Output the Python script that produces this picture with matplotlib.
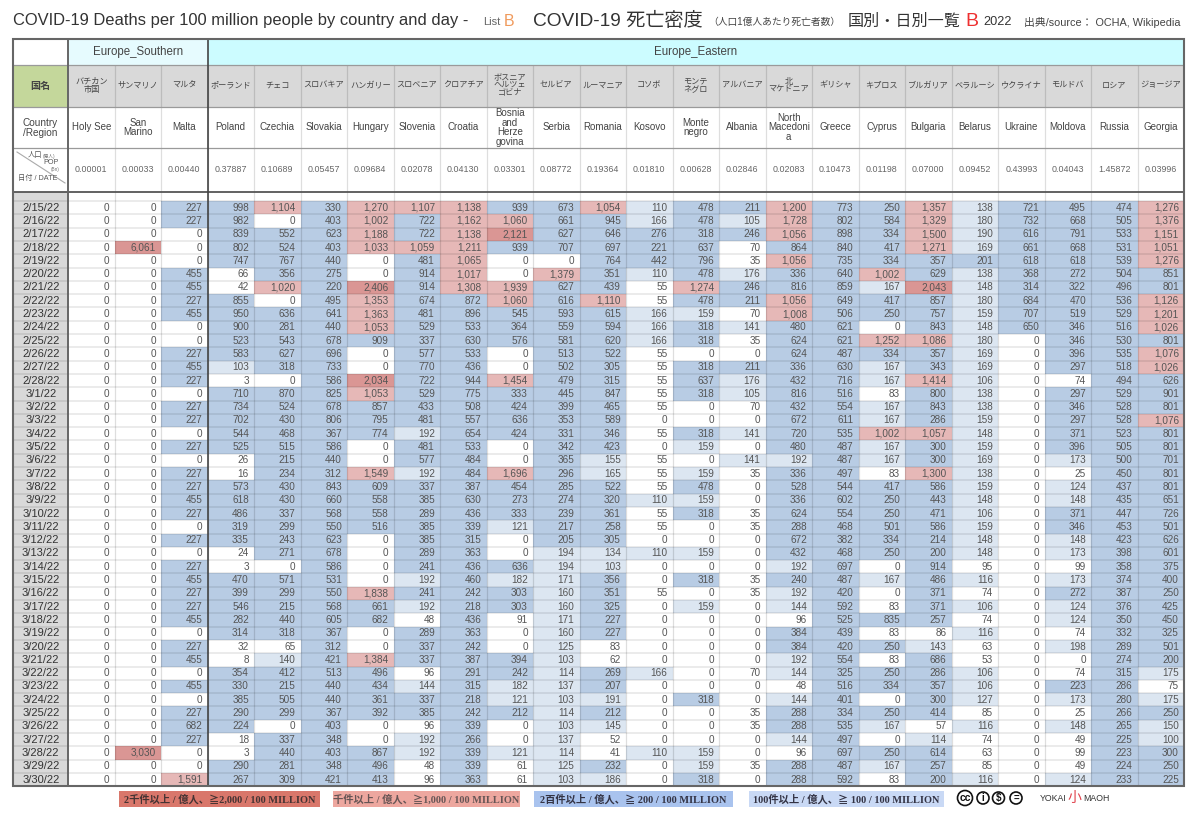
import numpy as np
import matplotlib
matplotlib.use('Agg')
import matplotlib.pyplot as plt
from matplotlib.colors import ListedColormap, BoundaryNorm
from matplotlib.patches import Rectangle, Circle

plt.rcParams['font.family'] = ['Liberation Sans', 'Noto Sans CJK JP']
SERIF = ['Liberation Serif', 'Noto Sans CJK JP']

dates = ['2/15/22', '2/16/22', '2/17/22', '2/18/22', '2/19/22', '2/20/22', '2/21/22', '2/22/22', '2/23/22',
         '2/24/22', '2/25/22', '2/26/22', '2/27/22', '2/28/22', '3/1/22', '3/2/22', '3/3/22', '3/4/22', '3/5/22',
         '3/6/22', '3/7/22', '3/8/22', '3/9/22', '3/10/22', '3/11/22', '3/12/22', '3/13/22', '3/14/22', '3/15/22',
         '3/16/22', '3/17/22', '3/18/22', '3/19/22', '3/20/22', '3/21/22', '3/22/22', '3/23/22', '3/24/22',
         '3/25/22', '3/26/22', '3/27/22', '3/28/22', '3/29/22', '3/30/22']

names_jp = ['バチカン\n市国', 'サンマリノ', 'マルタ', 'ポーランド', 'チェコ', 'スロバキア', 'ハンガリー', 'スロベニア',
            'クロアチア', 'ボスニア\nヘルツェ\nゴビナ', 'セルビア', 'ルーマニア', 'コソボ', 'モンテ\nネグロ', 'アルバニア',
            '北\nマケドニア', 'ギリシャ', 'キプロス', 'ブルガリア', 'ベラルーシ', 'ウクライナ', 'モルドバ', 'ロシア',
            'ジョージア']
names_en = ['Holy See', 'San\nMarino', 'Malta', 'Poland', 'Czechia', 'Slovakia', 'Hungary', 'Slovenia', 'Croatia',
            'Bosnia\nand\nHerze\ngovina', 'Serbia', 'Romania', 'Kosovo', 'Monte\nnegro', 'Albania',
            'North\nMacedoni\na', 'Greece', 'Cyprus', 'Bulgaria', 'Belarus', 'Ukraine', 'Moldova', 'Russia', 'Georgia']
population = ['0.00001', '0.00033', '0.00440', '0.37887', '0.10689', '0.05457', '0.09684', '0.02078', '0.04130',
              '0.03301', '0.08772', '0.19364', '0.01810', '0.00628', '0.02846', '0.02083', '0.10473', '0.01198',
              '0.07000', '0.09452', '0.43993', '0.04043', '1.45872', '0.03996']

holy_see = [0] * 44
san_marino = [0, 0, 0, 6061, 0, 0, 0, 0, 0, 0, 0, 0, 0, 0,
              0, 0, 0, 0, 0, 0, 0, 0, 0, 0, 0, 0, 0, 0, 0, 0, 0, 0, 0, 0, 0, 0, 0, 0, 0, 0, 0, 3030, 0, 0]
malta = [227, 227, 0, 0, 0, 455, 455, 227, 455, 0, 0, 227, 455, 227,
         0, 227, 227, 0, 227, 0, 227, 227, 455, 227, 0, 227, 0, 227, 455, 227, 227, 455, 0, 227, 455, 0, 455, 0, 227,
         682, 227, 0, 0, 1591]
poland = [998, 982, 839, 802, 747, 66, 42, 855, 950, 900, 523, 583, 103, 3,
          710, 734, 702, 544, 525, 26, 16, 573, 618, 486, 319, 335, 24, 3, 470, 399, 546, 282, 314, 32, 8, 354, 330,
          385, 290, 224, 18, 3, 290, 267]
czechia = [1104, 0, 552, 524, 767, 356, 1020, 0, 636, 281, 543, 627, 318, 0,
           870, 524, 430, 468, 515, 215, 234, 430, 430, 337, 299, 243, 271, 0, 571, 299, 215, 440, 318, 65, 140, 412,
           215, 505, 299, 0, 337, 440, 281, 309]
slovakia = [330, 403, 623, 403, 440, 275, 220, 495, 641, 440, 678, 696, 733, 586,
            825, 678, 806, 367, 586, 440, 312, 843, 660, 568, 550, 623, 678, 586, 531, 550, 568, 605, 367, 312, 421,
            513, 440, 440, 367, 403, 348, 403, 348, 421]
hungary = [1270, 1002, 1188, 1033, 0, 0, 2406, 1353, 1363, 1053, 909, 0, 0, 2034,
           1053, 857, 795, 774, 0, 0, 1549, 609, 558, 558, 516, 0, 0, 0, 0, 1838, 661, 682, 0, 0, 1384, 496, 434, 361,
           392, 0, 0, 867, 496, 413]
slovenia = [1107, 722, 722, 1059, 481, 914, 914, 674, 481, 529, 337, 577, 770, 722,
            529, 433, 481, 192, 481, 577, 192, 337, 385, 289, 385, 385, 289, 241, 192, 241, 192, 48, 289, 337, 337, 96,
            144, 337, 385, 96, 192, 192, 48, 96]
croatia = [1138, 1162, 1138, 1211, 1065, 1017, 1308, 872, 896, 533, 630, 533, 436, 944,
           775, 508, 557, 654, 533, 484, 484, 387, 630, 436, 339, 315, 363, 436, 460, 242, 218, 436, 363, 242, 387,
           291, 315, 218, 242, 339, 266, 339, 339, 363]
bosnia = [939, 1060, 2121, 939, 0, 0, 1939, 1060, 545, 364, 576, 0, 0, 1454,
          333, 424, 636, 424, 0, 0, 1696, 454, 273, 333, 121, 0, 0, 636, 182, 303, 303, 91, 0, 0, 394, 242, 182, 121,
          212, 0, 0, 121, 61, 61]
serbia = [673, 661, 627, 707, 0, 1379, 627, 616, 593, 559, 581, 513, 502, 479,
          445, 399, 353, 331, 342, 365, 296, 285, 274, 239, 217, 205, 194, 194, 171, 160, 160, 171, 160, 125, 103,
          114, 137, 103, 114, 103, 137, 114, 125, 103]
romania = [1054, 945, 646, 697, 764, 351, 439, 1110, 615, 594, 620, 522, 305, 315,
           847, 465, 589, 346, 423, 155, 165, 522, 320, 361, 258, 305, 134, 103, 356, 351, 325, 227, 227, 83, 62, 269,
           207, 191, 212, 145, 52, 41, 232, 186]
kosovo = [110, 166, 276, 221, 442, 110, 55, 55, 166, 166, 166, 55, 55, 55,
          55, 55, 0, 55, 0, 55, 55, 55, 110, 55, 55, 0, 110, 0, 0, 55, 0, 0, 0, 0, 0, 166, 0, 0, 0, 0, 0, 110, 0, 0]
montenegro = [478, 478, 318, 637, 796, 478, 1274, 478, 159, 318, 318, 0, 318, 637,
              318, 0, 0, 318, 159, 0, 159, 478, 159, 318, 0, 0, 159, 0, 318, 0, 159, 0, 0, 0, 0, 0, 0, 318, 0, 0, 0,
              159, 159, 318]
albania = [211, 105, 246, 70, 35, 176, 246, 211, 70, 141, 35, 0, 211, 176,
           105, 70, 0, 141, 0, 141, 35, 0, 0, 35, 35, 0, 0, 0, 35, 35, 0, 0, 0, 0, 0, 70, 0, 0, 35, 35, 0, 0, 35, 0]
n_macedonia = [1200, 1728, 1056, 864, 1056, 336, 816, 1056, 1008, 480, 624, 624, 336, 432,
               816, 432, 672, 720, 480, 192, 336, 528, 336, 624, 288, 672, 432, 192, 240, 192, 144, 96, 384, 384, 192,
               144, 48, 144, 288, 288, 144, 96, 288, 288]
greece = [773, 802, 898, 840, 735, 640, 859, 649, 506, 621, 621, 487, 630, 716,
          516, 554, 611, 535, 487, 487, 497, 544, 602, 554, 468, 382, 468, 697, 487, 420, 592, 525, 439, 420, 554,
          325, 516, 401, 334, 535, 497, 697, 487, 592]
cyprus = [250, 584, 334, 417, 334, 1002, 167, 417, 250, 0, 1252, 334, 167, 167,
          83, 167, 167, 1002, 167, 167, 83, 417, 250, 250, 501, 334, 250, 0, 167, 0, 83, 835, 83, 250, 83, 250, 334,
          0, 250, 167, 0, 250, 167, 83]
bulgaria = [1357, 1329, 1500, 1271, 357, 629, 2043, 857, 757, 843, 1086, 357, 343, 1414,
            800, 843, 286, 1057, 300, 300, 1300, 586, 443, 471, 586, 214, 200, 914, 486, 371, 371, 257, 86, 143, 686,
            286, 357, 300, 414, 57, 114, 614, 257, 200]
belarus = [138, 180, 190, 169, 201, 138, 148, 180, 159, 148, 180, 169, 169, 106,
           138, 138, 159, 148, 159, 169, 138, 159, 148, 106, 159, 148, 148, 95, 116, 74, 106, 74, 116, 63, 53, 106,
           106, 127, 85, 116, 74, 63, 85, 116]
ukraine = [721, 732, 616, 661, 618, 368, 314, 684, 707, 650, 0, 0, 0, 0] + [0] * 30
moldova = [495, 668, 791, 668, 618, 272, 322, 470, 519, 346, 346, 396, 297, 74,
           297, 346, 297, 371, 396, 173, 25, 124, 148, 371, 346, 148, 173, 99, 173, 272, 124, 124, 74, 198, 0, 74,
           223, 173, 25, 148, 49, 99, 49, 124]
russia = [474, 505, 533, 531, 539, 504, 496, 536, 529, 516, 530, 535, 518, 494,
          529, 528, 528, 523, 505, 500, 450, 437, 435, 447, 453, 423, 398, 358, 374, 387, 376, 350, 332, 289, 274,
          315, 286, 280, 266, 265, 225, 223, 224, 233]
georgia = [1276, 1376, 1151, 1051, 1276, 851, 801, 1126, 1201, 1026, 801, 1076, 1026, 626,
           901, 801, 1076, 801, 801, 701, 801, 801, 651, 726, 501, 626, 601, 375, 400, 250, 425, 450, 325, 501, 200,
           175, 75, 175, 250, 150, 100, 300, 250, 225]

columns = [holy_see, san_marino, malta, poland, czechia, slovakia, hungary, slovenia, croatia, bosnia, serbia, romania,
           kosovo, montenegro, albania, n_macedonia, greece, cyprus, bulgaria, belarus, ukraine, moldova, russia,
           georgia]
deaths = np.array(columns).T

legend_labels = ['2千件以上 / 億人、≧2,000 / 100 MILLION', '千件以上 / 億人、≧1,000 / 100 MILLION',
                 '2百件以上 / 億人、≧ 200 / 100 MILLION', '100件以上 / 億人、≧ 100 / 100 MILLION']

# ----- layout, pixels of the 1200x816 page -----
left, first_right, right = 12.6, 68.0, 1184.0
col_x = np.linspace(first_right, right, len(columns) + 1)
group_split = col_x[3]
y_top, y_group, y_jp, y_en, y_pop, y_data = 38.7, 64.7, 106.7, 148.3, 192.0, 201.0
row_h = 13.3
row_y = y_data + row_h * np.arange(len(dates) + 1)
y_bottom = row_y[-1]

fig = plt.figure(figsize=(12, 8.16), dpi=100)
ax = fig.add_axes([0, 0, 1, 1])
ax.set_xlim(0, 1200)
ax.set_ylim(816, 0)
ax.axis('off')

# ----- heat cells -----
cmap = ListedColormap(['#ffffff', '#dce6f1', '#b8cce4', '#e6b8b7', '#da9694'])
norm = BoundaryNorm([0, 100, 200, 1000, 2000, 100000], cmap.N)
ax.pcolormesh(col_x, row_y, deaths, cmap=cmap, norm=norm, zorder=1)

# ----- header fills -----
ax.add_patch(Rectangle((first_right, y_top), group_split - first_right, y_group - y_top, fc='#e6fbfe', ec='none'))
ax.add_patch(Rectangle((group_split, y_top), right - group_split, y_group - y_top, fc='#ccfcff', ec='none'))
ax.add_patch(Rectangle((left, y_group), first_right - left, y_jp - y_group, fc='#c4d79b', ec='none'))
ax.add_patch(Rectangle((first_right, y_group), right - first_right, y_jp - y_group, fc='#d9d9d9', ec='none'))
ax.add_patch(Rectangle((left, y_pop), first_right - left, y_bottom - y_pop, fc='#d9d9d9', ec='none'))

# ----- grid -----
ax.hlines(row_y, left, right, color='#000000', alpha=0.10, lw=1.1, zorder=2)
ax.vlines(col_x[1:-1], y_group, y_bottom, color='#000000', alpha=0.13, lw=0.9, zorder=2)
ax.hlines([y_group, y_jp, y_en], left, right, color='#9a9a9a', lw=0.9, zorder=3)
ax.hlines(y_pop, left, right, color='#555555', lw=1.3, zorder=3)
ax.vlines(first_right, y_top, y_bottom, color='#666666', lw=1.4, zorder=3)
ax.vlines(group_split, y_top, y_bottom, color='#444444', lw=1.2, zorder=3)
ax.add_patch(Rectangle((left, y_top), right - left, y_bottom - y_top, fc='none', ec='#666666', lw=1.5, zorder=4))

# ----- title -----
tc = '#333333'
ax.text(13, 21, 'COVID-19 Deaths per 100 million people by country and day -', fontsize=11.9, color=tc, va='center')
ax.text(483, 22, 'List', fontsize=8, color='#666666', va='center')
ax.text(504, 22, 'B', fontsize=11.5, color='#f09a5c', va='center')
ax.text(533, 21, 'COVID-19 死亡密度', fontsize=13.8, color=tc, va='center')
ax.text(708, 22, '（人口1億人あたり死亡者数）', fontsize=7.0, color='#444444', va='center')
ax.text(848, 21, '国別・日別一覧', fontsize=11.6, color=tc, va='center')
ax.text(965, 21, 'B', fontsize=14, color='#ee3030', va='center')
ax.text(983, 22, '2022', fontsize=9.2, color=tc, va='center')
ax.text(1024, 22, '出典/source： OCHA, Wikipedia', fontsize=7.8, color='#444444', va='center')

# ----- header texts -----
txt = '#444444'
ax.text((first_right + group_split) / 2, (y_top + y_group) / 2, 'Europe_Southern', fontsize=8.3, color=txt,
        ha='center', va='center')
ax.text((group_split + right) / 2, (y_top + y_group) / 2, 'Europe_Eastern', fontsize=8.3, color=txt,
        ha='center', va='center')
ax.text((left + first_right) / 2, (y_group + y_jp) / 2, '国名', fontsize=7.2, color=txt, ha='center', va='center',
        fontweight='bold')
ax.text((left + first_right) / 2, (y_jp + y_en) / 2, 'Country\n/Region', fontsize=7.2, color=txt, ha='center',
        va='center', linespacing=1.0)

# the split cell with population over date
ax.plot([17, 65], [152, 183], color='#aaaaaa', lw=0.8, zorder=3)
ax.text(28, 156, '人口', fontsize=5.2, color='#555555', ha='left', va='center')
ax.text(43, 156, '(億人)', fontsize=3.4, color='#777777', ha='left', va='center')
ax.text(59, 162.5, 'POP', fontsize=5.2, color='#555555', ha='right', va='center')
ax.text(60, 170, '(Bn)', fontsize=3.4, color='#777777', ha='right', va='center')
ax.text(18, 178, '日付 / DATE', fontsize=5.2, color='#555555', ha='left', va='center')

centers = (col_x[:-1] + col_x[1:]) / 2
for i, cx in enumerate(centers):
    ax.text(cx, (y_group + y_jp) / 2, names_jp[i], fontsize=5.9, color=txt, ha='center', va='center', linespacing=1.05)
    ax.text(cx, (y_jp + y_en) / 2, names_en[i], fontsize=7.0, color=txt, ha='center', va='center', linespacing=0.98)
    ax.text(cx, (y_en + y_pop) / 2 - 0.5, population[i], fontsize=6.4, color='#666666', ha='center', va='center')

# ----- row texts -----
for r, d in enumerate(dates):
    ym = (row_y[r] + row_y[r + 1]) / 2
    ax.text((left + first_right) / 2 + 0.5, ym, d, fontsize=8, color='#333333', ha='center', va='center', zorder=5)
    for c in range(deaths.shape[1]):
        ax.text(col_x[c + 1] - 5, ym, f'{deaths[r, c]:,}', fontsize=7.2, color='#555555', ha='right', va='center',
                zorder=5)

# ----- legend boxes -----
legend_boxes = [(119, 320, '#d9776b'), (333, 520, '#eda79f'), (534, 733, '#a9c3ee'), (748.5, 944, '#c9d9f5')]
legend_text = ['#443333', '#665555', '#333344', '#333344']
for (x0, x1, col), lab, tcol in zip(legend_boxes, legend_labels, legend_text):
    ax.add_patch(Rectangle((x0, 790.7), x1 - x0, 16.6, fc=col, ec='none'))
    ax.text((x0 + x1) / 2, 799, lab, fontsize=7.4, family=SERIF, fontweight='bold', color=tcol, ha='center',
            va='center')

# ----- licence badges and signature -----
for cx, s, r in [(965, 'cc', 7.5), (983, 'i', 6.0), (998.5, '$', 6.0), (1016, '=', 6.0)]:
    ax.add_patch(Circle((cx, 798), r, fc='white', ec='#111111', lw=1.2))
    ax.text(cx, 797.8, s, fontsize=7.5 if s == 'cc' else 7, color='#111111', ha='center', va='center',
            fontweight='bold')
ax.text(1040, 798.5, 'YOKAI', fontsize=6.3, color='#333333', va='center')
ax.text(1067, 798, '小', fontsize=10, color='#e0404a', va='center')
ax.text(1083, 798.5, 'MAOH', fontsize=6.3, color='#333333', va='center')

fig.savefig('out.png', dpi=100)
